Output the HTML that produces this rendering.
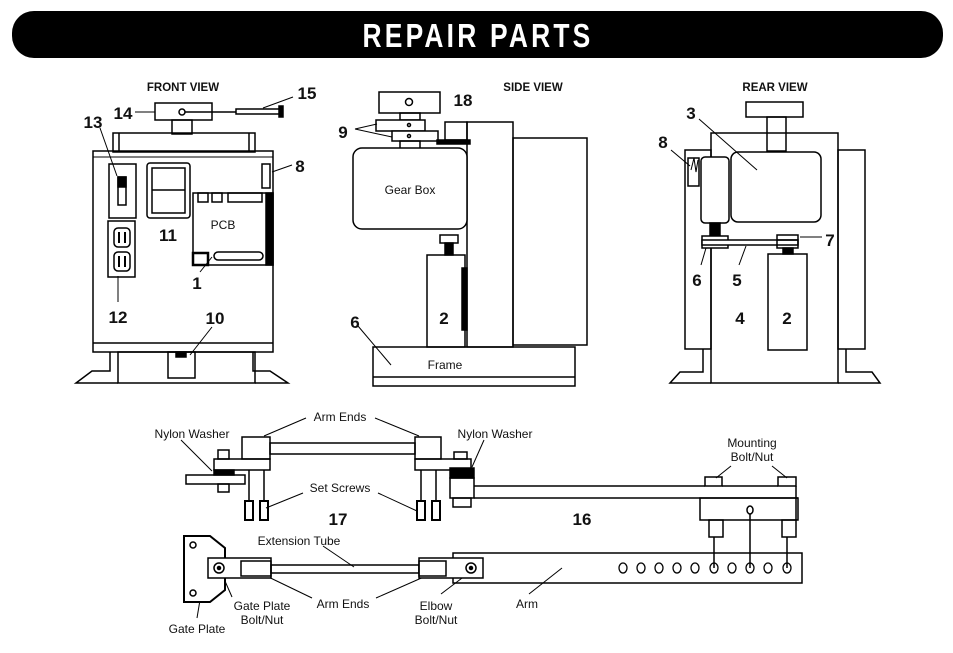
<!DOCTYPE html>
<html><head><meta charset="utf-8"><style>
html,body{margin:0;padding:0;background:#fff;width:953px;height:653px;overflow:hidden}
svg{display:block}
text{font-family:"Liberation Sans Narrow","Liberation Sans",sans-serif;fill:#111}
.l{font-size:12px}
.n{font-size:17px;font-weight:bold;font-family:"Liberation Sans",sans-serif}
.v{font-size:11.5px;font-weight:bold}
</style></head><body>
<svg width="953" height="653" viewBox="0 0 953 653" xmlns="http://www.w3.org/2000/svg">
<rect x="12" y="11" width="931" height="47" rx="22" fill="#000"/>
<text x="478" y="47" text-anchor="middle" style="font-family:'Liberation Sans Narrow','Liberation Sans',sans-serif;font-weight:bold;font-size:33px;fill:#fff;letter-spacing:4px" transform="translate(478 0) scale(0.8 1) translate(-478 0)">REPAIR PARTS</text>

<g fill="none" stroke="#000" stroke-width="1.5">
<!-- FRONT VIEW -->
<rect x="155" y="103" width="57" height="17" fill="#fff"/>
<circle cx="182" cy="112" r="3"/>
<line x1="185" y1="112" x2="236" y2="112"/>
<rect x="236" y="109" width="44" height="5"/>
<rect x="279" y="106" width="4" height="11" fill="#000"/>
<line x1="263" y1="108" x2="293" y2="97" stroke-width="1"/>
<line x1="135" y1="112" x2="155" y2="112" stroke-width="1"/>
<rect x="172" y="120" width="20" height="14"/>
<rect x="113" y="133" width="142" height="19"/>
<line x1="119" y1="133" x2="119" y2="152"/><line x1="249" y1="133" x2="249" y2="152"/>
<rect x="93" y="151" width="180" height="201"/>
<line x1="93" y1="157" x2="273" y2="157" stroke-width="1"/>
<line x1="93" y1="343" x2="273" y2="343"/>
<rect x="109" y="164" width="27" height="54"/>
<rect x="118" y="177" width="8" height="28"/>
<rect x="118" y="177" width="8" height="10" fill="#000"/>
<line x1="100" y1="128" x2="117" y2="176" stroke-width="1"/>
<rect x="108" y="221" width="27" height="56"/>
<rect x="114" y="228" width="16" height="19" rx="4"/>
<rect x="114" y="252" width="16" height="19" rx="4"/>
<line x1="119" y1="232" x2="119" y2="243" stroke-width="2"/><line x1="125" y1="232" x2="125" y2="243" stroke-width="2"/>
<line x1="119" y1="256" x2="119" y2="267" stroke-width="2"/><line x1="125" y1="256" x2="125" y2="267" stroke-width="2"/>
<line x1="118" y1="302" x2="118" y2="276" stroke-width="1"/>
<rect x="147" y="163" width="43" height="55" rx="3"/>
<rect x="152" y="168" width="33" height="45"/>
<line x1="152" y1="190" x2="185" y2="190"/>
<rect x="262" y="164" width="8" height="24"/>
<line x1="272" y1="172" x2="292" y2="165" stroke-width="1"/>
<rect x="193" y="193" width="80" height="72"/>
<rect x="266" y="193" width="7" height="72" fill="#000"/>
<rect x="198" y="193" width="10" height="9"/><rect x="212" y="193" width="10" height="9"/><rect x="228" y="193" width="34" height="9"/>
<rect x="193" y="253" width="15" height="12" stroke-width="2.5"/>
<rect x="214" y="252" width="49" height="8" rx="4"/>
<line x1="200" y1="272" x2="212" y2="257" stroke-width="1"/>
<line x1="212" y1="327" x2="190" y2="355" stroke-width="1"/>
<rect x="168" y="352" width="27" height="26"/>
<rect x="176" y="352" width="10" height="5" fill="#000"/>
<rect x="118" y="352" width="137" height="31"/>
<path d="M110 352V371H92L76 383H118"/>
<path d="M253 352V371H270L288 383H255"/>

<!-- SIDE VIEW -->
<rect x="379" y="92" width="61" height="21"/>
<circle cx="409" cy="102" r="3.5"/>
<rect x="400" y="113" width="20" height="7"/>
<rect x="376" y="120" width="49" height="11" fill="#fff"/>
<rect x="392" y="131" width="46" height="10" fill="#fff"/>
<circle cx="409" cy="125" r="1.5"/><circle cx="409" cy="136" r="1.5"/>
<rect x="400" y="141" width="20" height="8"/>
<line x1="355" y1="129" x2="377" y2="124" stroke-width="1"/>
<line x1="355" y1="129" x2="392" y2="137" stroke-width="1"/>
<rect x="445" y="122" width="22" height="18"/>
<rect x="437" y="140" width="33" height="4" fill="#000"/>
<rect x="467" y="122" width="46" height="225"/>
<rect x="513" y="138" width="74" height="207"/>
<rect x="353" y="148" width="114" height="81" rx="9" fill="#fff"/>
<rect x="440" y="235" width="18" height="8"/>
<rect x="445" y="243" width="8" height="12" fill="#000"/>
<rect x="427" y="255" width="38" height="92"/>
<rect x="462" y="268" width="5" height="62" fill="#000"/>
<rect x="373" y="347" width="202" height="39"/>
<line x1="373" y1="377" x2="575" y2="377"/>
<line x1="358" y1="326" x2="391" y2="365" stroke-width="1"/>

<!-- REAR VIEW -->
<rect x="746" y="102" width="57" height="15"/>
<rect x="767" y="117" width="19" height="34"/>
<rect x="711" y="133" width="127" height="250"/>
<rect x="838" y="150" width="27" height="199"/>
<rect x="685" y="150" width="26" height="199"/>
<path d="M703 349V372H680L670 383H711"/>
<path d="M846 349V372H872L880 383H838"/>
<rect x="731" y="152" width="90" height="70" rx="7" fill="#fff"/>
<rect x="701" y="157" width="28" height="66" rx="4" fill="#fff"/>
<rect x="688" y="158" width="11" height="28" fill="#fff"/>
<path d="M691 170L694 158L696 172L698 160" stroke-width="1"/>
<rect x="710" y="223" width="10" height="13" fill="#000"/>
<rect x="702" y="236" width="26" height="12" fill="#fff"/>
<rect x="702" y="240" width="96" height="5" fill="#fff"/>
<rect x="777" y="235" width="21" height="13"/>
<line x1="777" y1="240" x2="798" y2="240"/>
<rect x="783" y="248" width="10" height="6" fill="#000"/>
<rect x="768" y="254" width="39" height="96"/>
<line x1="800" y1="237" x2="822" y2="237" stroke-width="1"/>
<line x1="701" y1="265" x2="706" y2="248" stroke-width="1"/>
<line x1="739" y1="265" x2="746" y2="246" stroke-width="1"/>
<line x1="699" y1="119" x2="757" y2="170" stroke-width="1"/>
<line x1="671" y1="150" x2="690" y2="166" stroke-width="1"/>

<!-- BOTTOM TOP ASSEMBLY (17) -->
<rect x="242" y="437" width="28" height="22"/>
<rect x="214" y="459" width="56" height="11"/>
<rect x="270" y="443" width="145" height="11"/>
<rect x="415" y="437" width="26" height="22"/>
<rect x="415" y="459" width="56" height="11"/>
<rect x="214" y="470" width="20" height="5" fill="#000"/>
<rect x="218" y="450" width="11" height="9"/>
<rect x="186" y="475" width="59" height="9"/>
<rect x="218" y="484" width="11" height="8"/>
<line x1="249" y1="470" x2="249" y2="501"/><line x1="264" y1="470" x2="264" y2="501"/>
<rect x="245" y="501" width="8" height="19" stroke-width="2"/>
<rect x="260" y="501" width="8" height="19" stroke-width="2"/>
<line x1="421" y1="470" x2="421" y2="501"/><line x1="436" y1="470" x2="436" y2="501"/>
<rect x="417" y="501" width="8" height="19" stroke-width="2"/>
<rect x="432" y="501" width="8" height="19" stroke-width="2"/>
<rect x="454" y="452" width="13" height="7"/>
<rect x="450" y="468" width="24" height="10" fill="#000"/>
<rect x="450" y="478" width="24" height="20"/>
<rect x="453" y="498" width="18" height="9"/>
<path d="M474 486H705M474 498H798M722 486H778M796 486V520"/>
<rect x="700" y="498" width="98" height="22"/>
<ellipse cx="750" cy="510" rx="3" ry="4"/>
<rect x="705" y="477" width="17" height="9"/><rect x="778" y="477" width="18" height="9"/>
<rect x="709" y="520" width="14" height="17"/><rect x="782" y="520" width="14" height="17"/>
<line x1="714" y1="537" x2="714" y2="568"/><line x1="787" y1="537" x2="787" y2="568"/>
<line x1="750" y1="514" x2="750" y2="568"/>
<!-- leaders -->
<g stroke-width="1">
<line x1="306" y1="418" x2="264" y2="436"/><line x1="375" y1="418" x2="419" y2="436"/>
<line x1="181" y1="440" x2="212" y2="471"/>
<line x1="484" y1="440" x2="472" y2="467"/>
<line x1="303" y1="493" x2="266" y2="508"/><line x1="378" y1="493" x2="417" y2="511"/>
<line x1="731" y1="466" x2="716" y2="478"/><line x1="772" y1="466" x2="787" y2="478"/>
<line x1="323" y1="546" x2="354" y2="567"/>
<line x1="312" y1="598" x2="256" y2="571"/><line x1="376" y1="598" x2="426" y2="576"/>
<line x1="441" y1="594" x2="470" y2="572"/>
<line x1="529" y1="594" x2="562" y2="568"/>
<line x1="232" y1="597" x2="221" y2="572"/>
<line x1="197" y1="618" x2="201" y2="594"/>
</g>
<!-- lower assembly -->
<path d="M184 536H210L225 548V590L210 602H184Z" fill="#fff" stroke-width="2"/>
<circle cx="193" cy="545" r="3"/><circle cx="193" cy="593" r="3"/>
<rect x="208" y="558" width="63" height="20" fill="#fff"/>
<rect x="241" y="561" width="30" height="15"/>
<circle cx="219" cy="568" r="5"/><circle cx="219" cy="568" r="1.5" fill="#000"/>
<rect x="271" y="565" width="148" height="8"/>
<rect x="453" y="553" width="349" height="30"/>
<rect x="419" y="558" width="64" height="20" fill="#fff"/>
<rect x="419" y="561" width="27" height="15"/>
<circle cx="471" cy="568" r="5"/><circle cx="471" cy="568" r="1.5" fill="#000"/>
<g stroke-width="1.3">
<ellipse cx="623" cy="568" rx="4" ry="5"/><ellipse cx="641" cy="568" rx="4" ry="5"/><ellipse cx="659" cy="568" rx="4" ry="5"/><ellipse cx="677" cy="568" rx="4" ry="5"/><ellipse cx="695" cy="568" rx="4" ry="5"/><ellipse cx="714" cy="568" rx="4" ry="5"/><ellipse cx="732" cy="568" rx="4" ry="5"/><ellipse cx="750" cy="568" rx="4" ry="5"/><ellipse cx="768" cy="568" rx="4" ry="5"/><ellipse cx="787" cy="568" rx="4" ry="5"/>
</g>
</g>

<text class="v" x="183" y="91" text-anchor="middle">FRONT VIEW</text>
<text class="v" x="533" y="91" text-anchor="middle">SIDE VIEW</text>
<text class="v" x="775" y="91" text-anchor="middle">REAR VIEW</text>
<text class="n" x="123" y="119" text-anchor="middle">14</text>
<text class="n" x="307" y="99" text-anchor="middle">15</text>
<text class="n" x="93" y="128" text-anchor="middle">13</text>
<text class="n" x="300" y="172" text-anchor="middle">8</text>
<text class="n" x="168" y="241" text-anchor="middle">11</text>
<text class="l" x="223" y="229" text-anchor="middle">PCB</text>
<text class="n" x="197" y="289" text-anchor="middle">1</text>
<text class="n" x="118" y="323" text-anchor="middle">12</text>
<text class="n" x="215" y="324" text-anchor="middle">10</text>
<text class="n" x="343" y="138" text-anchor="middle">9</text>
<text class="n" x="463" y="106" text-anchor="middle">18</text>
<text class="l" x="410" y="194" text-anchor="middle">Gear Box</text>
<text class="n" x="444" y="324" text-anchor="middle">2</text>
<text class="n" x="355" y="328" text-anchor="middle">6</text>
<text class="l" x="445" y="369" text-anchor="middle">Frame</text>
<text class="n" x="691" y="119" text-anchor="middle">3</text>
<text class="n" x="663" y="148" text-anchor="middle">8</text>
<text class="n" x="830" y="246" text-anchor="middle">7</text>
<text class="n" x="697" y="286" text-anchor="middle">6</text>
<text class="n" x="737" y="286" text-anchor="middle">5</text>
<text class="n" x="740" y="324" text-anchor="middle">4</text>
<text class="n" x="787" y="324" text-anchor="middle">2</text>
<text class="l" x="340" y="421" text-anchor="middle">Arm Ends</text>
<text class="l" x="192" y="438" text-anchor="middle">Nylon Washer</text>
<text class="l" x="495" y="438" text-anchor="middle">Nylon Washer</text>
<text class="l" x="752" y="447" text-anchor="middle">Mounting</text>
<text class="l" x="752" y="461" text-anchor="middle">Bolt/Nut</text>
<text class="l" x="340" y="492" text-anchor="middle">Set Screws</text>
<text class="n" x="338" y="525" text-anchor="middle">17</text>
<text class="n" x="582" y="525" text-anchor="middle">16</text>
<text class="l" x="299" y="545" text-anchor="middle">Extension Tube</text>
<text class="l" x="343" y="608" text-anchor="middle">Arm Ends</text>
<text class="l" x="262" y="610" text-anchor="middle">Gate Plate</text>
<text class="l" x="262" y="624" text-anchor="middle">Bolt/Nut</text>
<text class="l" x="436" y="610" text-anchor="middle">Elbow</text>
<text class="l" x="436" y="624" text-anchor="middle">Bolt/Nut</text>
<text class="l" x="527" y="608" text-anchor="middle">Arm</text>
<text class="l" x="197" y="633" text-anchor="middle">Gate Plate</text>
</svg>
</body></html>
